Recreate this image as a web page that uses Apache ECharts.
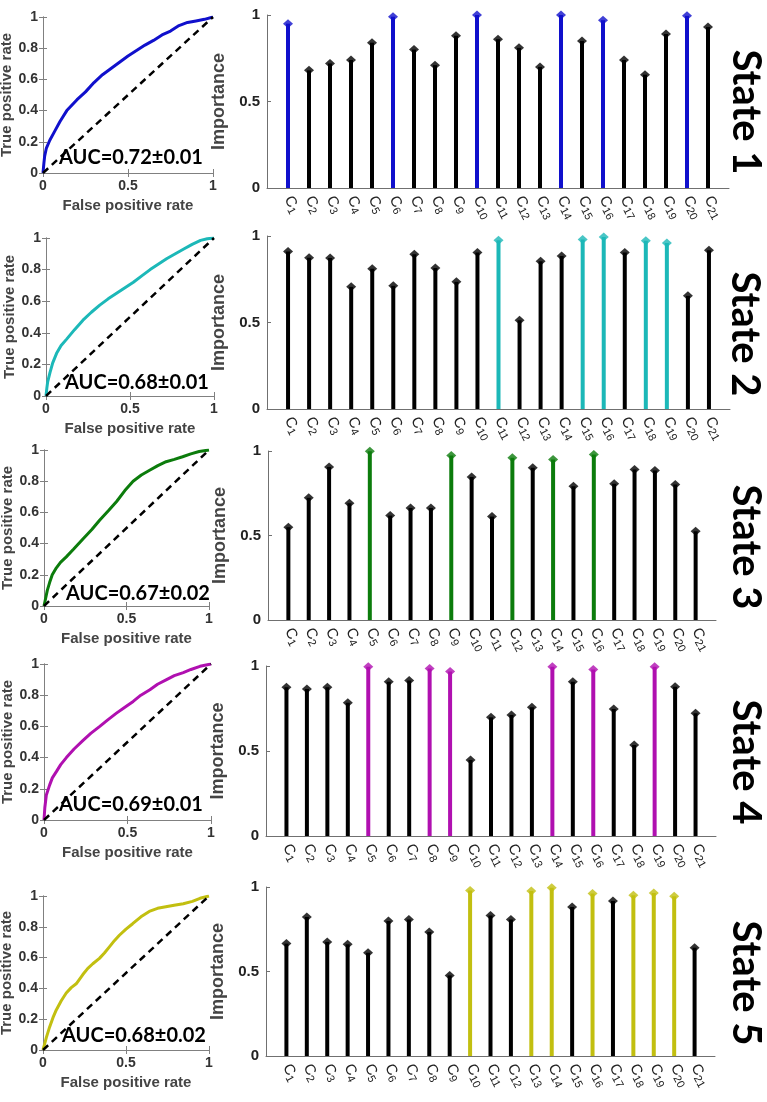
<!DOCTYPE html>
<html><head><meta charset="utf-8">
<script src="https://cdn.jsdelivr.net/npm/echarts@6/dist/echarts.min.js"></script>
<style>html,body{margin:0;padding:0;background:#fff}#c{width:767px;height:1102px}</style>
</head><body><div id="c"></div>
<script>
// ---------- data ----------
const stateNames = ['State 1', 'State 2', 'State 3', 'State 4', 'State 5'];
const aucLabels = ['AUC=0.72±0.01', 'AUC=0.68±0.01', 'AUC=0.67±0.02', 'AUC=0.69±0.01', 'AUC=0.68±0.02'];
const featureNums = [1,2,3,4,5,6,7,8,9,10,11,12,13,14,15,16,17,18,19,20,21];
const featurePrefix = 'C';
const rocTicksX = [0, 0.5, 1];
const rocTicksY = [0, 0.2, 0.4, 0.6, 0.8, 1];
const impTicks = [0, 0.5, 1];

const imp1 = [0.95,0.68,0.72,0.74,0.84,0.99,0.80,0.71,0.88,1.00,0.86,0.81,0.70,1.00,0.85,0.97,0.74,0.655,0.89,0.995,0.93];
const imp2 = [0.91,0.875,0.873,0.706,0.81,0.712,0.894,0.815,0.735,0.904,0.975,0.513,0.854,0.885,0.98,0.994,0.904,0.973,0.96,0.654,0.917];
const imp3 = [0.549,0.723,0.905,0.691,0.998,0.618,0.663,0.663,0.974,0.846,0.612,0.96,0.901,0.949,0.792,0.98,0.806,0.891,0.885,0.802,0.525];
const imp4 = [0.875,0.865,0.875,0.784,0.996,0.908,0.914,0.986,0.967,0.447,0.698,0.712,0.757,0.996,0.908,0.98,0.747,0.535,0.996,0.878,0.722];
const imp5 = [0.665,0.822,0.675,0.661,0.611,0.799,0.807,0.734,0.477,0.98,0.832,0.807,0.976,0.996,0.882,0.961,0.917,0.951,0.964,0.945,0.641];

const sel1 = [1,6,10,14,16,20];
const sel2 = [11,15,16,18,19];
const sel3 = [5,9,12,14,16];
const sel4 = [5,8,9,14,16,19];
const sel5 = [10,13,14,16,18,19,20];

const roc1 = [[0,0],[0.005,0.06],[0.01,0.11],[0.02,0.16],[0.04,0.21],[0.07,0.27],[0.1,0.33],[0.14,0.40],[0.2,0.47],[0.25,0.52],[0.3,0.58],[0.35,0.63],[0.4,0.67],[0.45,0.71],[0.5,0.75],[0.55,0.785],[0.6,0.82],[0.65,0.85],[0.7,0.885],[0.75,0.91],[0.8,0.945],[0.85,0.965],[0.9,0.975],[0.95,0.985],[1,1]];
const roc2 = [[0,0],[0.005,0.05],[0.01,0.09],[0.024,0.15],[0.04,0.21],[0.063,0.27],[0.09,0.32],[0.123,0.36],[0.17,0.42],[0.22,0.48],[0.27,0.53],[0.32,0.575],[0.37,0.615],[0.42,0.65],[0.47,0.685],[0.52,0.72],[0.57,0.76],[0.62,0.80],[0.67,0.835],[0.72,0.87],[0.77,0.90],[0.82,0.93],[0.87,0.96],[0.92,0.985],[0.96,0.995],[1,1]];
const roc3 = [[0,0],[0.01,0.05],[0.02,0.10],[0.034,0.15],[0.05,0.2],[0.075,0.245],[0.1,0.28],[0.135,0.315],[0.18,0.365],[0.236,0.43],[0.29,0.49],[0.337,0.55],[0.39,0.61],[0.44,0.67],[0.49,0.74],[0.54,0.80],[0.59,0.84],[0.64,0.87],[0.69,0.90],[0.74,0.925],[0.79,0.94],[0.84,0.957],[0.89,0.975],[0.94,0.99],[1,1]];
const roc4 = [[0,0],[0.005,0.08],[0.014,0.16],[0.034,0.225],[0.05,0.27],[0.074,0.31],[0.1,0.355],[0.134,0.40],[0.18,0.455],[0.234,0.51],[0.28,0.555],[0.334,0.60],[0.38,0.64],[0.434,0.685],[0.48,0.72],[0.534,0.76],[0.58,0.80],[0.634,0.835],[0.68,0.87],[0.734,0.90],[0.78,0.925],[0.834,0.945],[0.88,0.965],[0.934,0.985],[1,1]];
const roc5 = [[0,0],[0.01,0.04],[0.02,0.08],[0.04,0.15],[0.06,0.21],[0.08,0.26],[0.11,0.32],[0.14,0.37],[0.17,0.405],[0.2,0.43],[0.24,0.49],[0.27,0.53],[0.30,0.56],[0.34,0.595],[0.37,0.63],[0.40,0.67],[0.43,0.71],[0.46,0.745],[0.5,0.785],[0.54,0.82],[0.59,0.865],[0.64,0.90],[0.69,0.92],[0.74,0.93],[0.79,0.94],[0.845,0.95],[0.9,0.965],[0.946,0.985],[1,1]];
const chanceLine = [[0,0],[1,1]];

const importances = [imp1, imp2, imp3, imp4, imp5];
const selections = [sel1, sel2, sel3, sel4, sel5];
const rocs = [roc1, roc2, roc3, roc4, roc5];

// ---------- styles / layout ----------
const stateColors = ['#1010cc', '#1cb8b8', '#0c7c0c', '#b010b0', '#c2bf10'];
const layout = [
  {roc:{left:43,top:17,width:170,height:156}, stem:{left:267,top:15,width:462,height:173}, state:[746,112], auc:[131,158]},
  {roc:{left:46,top:238,width:168,height:158}, stem:{left:267,top:236,width:463,height:173}, state:[745,334], auc:[137,383]},
  {roc:{left:44,top:450,width:165,height:156}, stem:{left:268,top:451,width:448,height:169}, state:[746,547], auc:[138,594]},
  {roc:{left:44,top:664,width:167,height:156}, stem:{left:266,top:666,width:450,height:170}, state:[746,762], auc:[131,805]},
  {roc:{left:43,top:896,width:166,height:154}, stem:{left:266,top:887,width:449,height:169}, state:[746,983], auc:[134,1036]}
];
const FONT = 'Liberation Sans, Arial, sans-serif';
const boxColor = '#808080';

const grids = [], xAxes = [], yAxes = [], series = [], graphics = [];

function fmtTick(v){ return String(Math.round(v*10)/10); }

layout.forEach((L, r) => {
  const gR = grids.length;
  grids.push(Object.assign({outerBoundsMode:'none', containLabel:false}, L.roc));
  const gS = grids.length;
  grids.push(Object.assign({outerBoundsMode:'none', containLabel:false}, L.stem));

  const axLine = {show:true, lineStyle:{color:boxColor, width:1}};
  const axTick = {show:true, inside:true, length:4, lineStyle:{color:boxColor, width:1}};
  // ROC axes
  const xR = xAxes.length;
  xAxes.push({type:'value', gridIndex:gR, min:0, max:1, interval:0.5, position:'bottom',
    axisLine:axLine, axisTick:axTick, splitLine:{show:false},
    axisLabel:{fontFamily:FONT, fontWeight:'bold', fontSize:14, color:'#333', margin:6, formatter:v=>rocTicksX.includes(v)?fmtTick(v):''},
    name:'False positive rate', nameLocation:'middle', nameGap:25,
    nameTextStyle:{fontFamily:FONT, fontWeight:'bold', fontSize:15, color:'#444'}});
  xAxes.push({type:'value', gridIndex:gR, min:0, max:1, interval:0.5, position:'top',
    axisLine:axLine, axisTick:axTick, splitLine:{show:false}, axisLabel:{show:false}});
  const yR = yAxes.length;
  yAxes.push({type:'value', gridIndex:gR, min:0, max:1, interval:0.2, position:'left',
    axisLine:axLine, axisTick:axTick, splitLine:{show:false},
    axisLabel:{fontFamily:FONT, fontWeight:'bold', fontSize:14, color:'#333', margin:5, formatter:v=>fmtTick(v)},
    name:'True positive rate', nameLocation:'middle', nameGap:24,
    nameTextStyle:{fontFamily:FONT, fontWeight:'bold', fontSize:15, color:'#444'}});
  yAxes.push({type:'value', gridIndex:gR, min:0, max:1, interval:0.2, position:'right',
    axisLine:axLine, axisTick:axTick, splitLine:{show:false}, axisLabel:{show:false}});

  // stem axes
  const xS = xAxes.length;
  xAxes.push({type:'value', gridIndex:gS, min:0, max:22, interval:1, position:'bottom',
    axisLine:{show:true, onZero:false, lineStyle:{color:'#707070', width:1}}, axisTick:{show:false}, splitLine:{show:false},
    axisLabel:{rotate:-62, margin:9, color:'#222', fontFamily:FONT,
      formatter:v=> featureNums.includes(v) ? '{c|'+featurePrefix+'}{s|'+v+'}' : '',
      rich:{c:{fontSize:15, fontFamily:FONT, color:'#222'}, s:{fontSize:11, fontFamily:FONT, color:'#222', padding:[8,0,0,0]}}}});
  const yS = yAxes.length;
  yAxes.push({type:'value', gridIndex:gS, min:0, max:1, interval:0.5, position:'left',
    axisLine:{show:true, lineStyle:{color:'#707070', width:1}},
    axisTick:{show:true, inside:true, length:4, lineStyle:{color:'#707070'}}, splitLine:{show:false},
    axisLabel:{fontFamily:FONT, fontWeight:'bold', fontSize:15, color:'#222', margin:7, formatter:v=>impTicks.includes(v)?fmtTick(v):''},
    name:'Importance', nameLocation:'middle', nameGap:30,
    nameTextStyle:{fontFamily:FONT, fontWeight:'bold', fontSize:18, color:'#444'}});

  // ROC series
  series.push({type:'line', xAxisIndex:xR, yAxisIndex:yR, data:chanceLine, symbol:'none', silent:true,
    lineStyle:{color:'#000', width:2.5, type:[7,5]}, z:3});
  series.push({type:'line', xAxisIndex:xR, yAxisIndex:yR, data:rocs[r], symbol:'none', silent:true,
    lineStyle:{color:stateColors[r], width:3}, z:2});

  // stems
  const stemData = importances[r].map((v,i)=>{
    const f = featureNums[i];
    const c = selections[r].includes(f) ? stateColors[r] : '#000';
    return {value:[f, v], itemStyle:{color:c}};
  });
  series.push({type:'bar', xAxisIndex:xS, yAxisIndex:yS, data:stemData, barWidth:4, silent:true, z:2});
  series.push({type:'scatter', xAxisIndex:xS, yAxisIndex:yS, data:stemData, symbol:'diamond', symbolSize:[10,9], silent:true, z:3});

  // texts
  graphics.push({type:'text', x:L.auc[0], y:L.auc[1], z:10,
    style:{text:aucLabels[r], fill:'#000', font:'bold 20px Lato, "Open Sans", sans-serif', textAlign:'center', textVerticalAlign:'middle'}});
  graphics.push({type:'text', x:L.state[0], y:L.state[1], rotation:-Math.PI/2, z:10,
    style:{text:stateNames[r], fill:'#000', font:'bold 40px Lato, "Open Sans", sans-serif', textAlign:'center', textVerticalAlign:'middle'}});
});

const chart = echarts.init(document.getElementById('c'), null, {renderer:'canvas'});
chart.setOption({
  backgroundColor:'#fff',
  animation:false,
  grid:grids, xAxis:xAxes, yAxis:yAxes, series:series, graphic:graphics
});
</script></body></html>
